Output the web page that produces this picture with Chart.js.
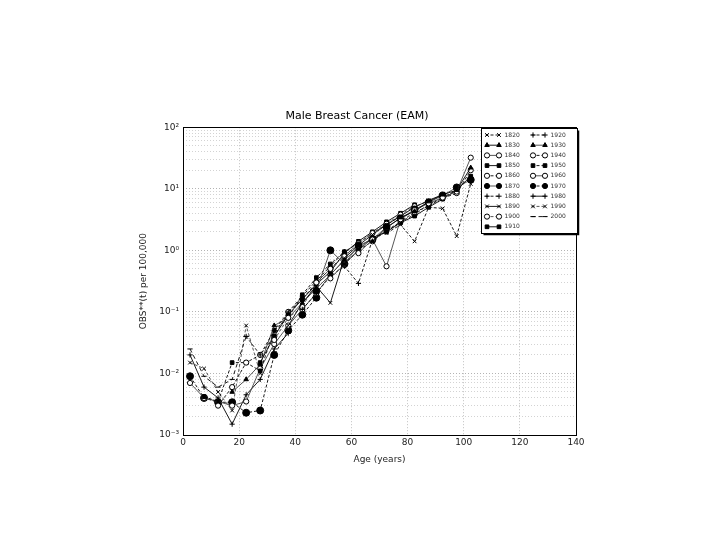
<!DOCTYPE html>
<html>
<head>
<meta charset="utf-8">
<script src="https://cdn.jsdelivr.net/npm/chart.js@4.4.1/dist/chart.umd.min.js"></script>
<style>
    html, body { margin: 0; padding: 0; background: #fff; }
</style>
</head>
<body>
<canvas id="myChart" width="720" height="540"></canvas>
<script>
// age group midpoints (years)
const ages = [2.5, 7.5, 12.5, 17.5, 22.5, 27.5, 32.5, 37.5, 42.5, 47.5, 52.5,
    57.5, 62.5, 67.5, 72.5, 77.5, 82.5, 87.5, 92.5, 97.5, 102.5];

const cohorts = ['1820', '1830', '1840', '1850', '1860', '1870', '1880', '1890', '1900', '1910',
    '1920', '1930', '1940', '1950', '1960', '1970', '1980', '1990', '2000'];

// OBS**(t) per 100,000, one value per age group (null = not observed)
const n = null;
const s1820 = [n, n, n, n, n, n, n, n, n, n, n, n, n, n, 1.9, 2.6, 1.4, 5.0, 4.8, 1.7, 12];
const s1830 = [n, n, n, n, n, n, n, n, n, n, n, n, n, 1.4, 2.3, 3.4, 4.3, 6.2, 8.0, 9.5, 22];
const s1840 = [n, n, n, n, n, n, n, n, n, n, n, n, 0.9, 1.5, 0.55, 3.2, 4.5, 5.8, 7.2, 9.0, 32];
const s1850 = [n, n, n, n, n, n, n, n, n, n, n, 0.6, 1.0, 1.6, 2.0, 2.8, 3.6, 5.0, 6.8, 9.5, 16];
const s1860 = [n, n, n, n, n, n, n, n, n, n, 0.35, 0.6, 1.0, 1.4, 2.1, 2.9, 3.8, 5.6, 7.0, 8.5, 20];
const s1870 = [n, n, n, n, n, n, n, n, n, 0.22, 1.0, 0.6, 1.2, 1.5, 2.4, 3.3, 4.6, 6.0, 7.8, 10.5, 14];
const s1880 = [n, n, n, n, n, n, n, n, 0.11, 0.2, 0.38, 0.55, 0.29, 1.5, 2.0, 2.9, 4.2, 5.2, 7.2, 9.5, n];
const s1890 = [n, n, n, n, n, n, n, 0.06, 0.14, 0.26, 0.14, 0.75, 1.2, 1.8, 2.6, 3.6, 5.0, 6.5, 8.0, n, n];
const s1900 = [n, n, n, n, n, n, 0.035, 0.08, 0.12, 0.3, 0.5, 0.8, 1.3, 1.9, 2.7, 3.8, 5.2, 6.2, n, n, n];
const s1910 = [n, n, n, n, n, 0.015, 0.04, 0.09, 0.16, 0.28, 0.45, 0.9, 1.4, 2.0, 2.9, 4.0, 5.5, n, n, n, n];
const s1920 = [n, n, n, n, 0.04, 0.02, 0.05, 0.1, 0.18, 0.32, 0.55, 0.95, 1.3, 1.9, 2.6, 3.6, n, n, n, n, n];
const s1930 = [n, n, n, 0.005, 0.008, 0.014, 0.06, 0.08, 0.14, 0.24, 0.4, 0.7, 1.1, 1.6, n, n, n, n, n, n, n];
const s1940 = [n, n, 0.003, 0.006, 0.015, 0.02, 0.04, 0.1, 0.16, 0.3, 0.5, 0.85, 1.2, n, n, n, n, n, n, n, n];
const s1950 = [n, 0.0042, 0.0035, 0.015, 0.015, 0.011, 0.05, 0.08, 0.19, 0.36, 0.6, 0.95, n, n, n, n, n, n, n, n, n];
const s1960 = [0.007, 0.004, 0.0035, 0.003, 0.0035, 0.012, 0.03, 0.06, 0.11, 0.2, 0.4, 0.7, n, n, n, n, n, n, n, n, n];
const s1970 = [0.009, 0.004, 0.0034, 0.0034, 0.0023, 0.0025, 0.02, 0.05, 0.09, 0.17, n, n, n, n, n, n, n, n, n, n, n];
const s1980 = [0.02, 0.006, 0.004, 0.0015, 0.0045, 0.008, 0.025, 0.045, n, n, n, n, n, n, n, n, n, n, n, n, n];
const s1990 = [0.015, 0.012, 0.005, 0.0025, 0.06, 0.01, n, n, n, n, n, n, n, n, n, n, n, n, n, n, n];
const s2000 = [0.025, 0.009, 0.006, 0.008, 0.04, n, n, n, n, n, n, n, n, n, n, n, n, n, n, n, n];

const series = [s1820, s1830, s1840, s1850, s1860, s1870, s1880, s1890, s1900, s1910,
    s1920, s1930, s1940, s1950, s1960, s1970, s1980, s1990, s2000];

const xTicks = [0, 20, 40, 60, 80, 100, 120, 140];
const yTickValues = [0.001, 0.01, 0.1, 1, 10, 100];
const yTickLabels = ['10\u207B\u00B3', '10\u207B\u00B2', '10\u207B\u00B9', '10\u2070', '10\u00B9', '10\u00B2'];

// marker / line style per cohort
const styles = [
    {pt: 'crossRot', fill: false, dash: [3, 2]},
    {pt: 'triangle', fill: true, dash: []},
    {pt: 'circle', fill: false, dash: []},
    {pt: 'rect', fill: true, dash: []},
    {pt: 'circle', fill: false, dash: [3, 2]},
    {pt: 'circle', fill: true, dash: [], r: 3.5},
    {pt: 'cross', fill: false, dash: [3, 2]},
    {pt: 'crossRot', fill: false, dash: []},
    {pt: 'circle', fill: false, dash: [3, 2]},
    {pt: 'rect', fill: true, dash: []},
    {pt: 'cross', fill: false, dash: [3, 2]},
    {pt: 'triangle', fill: true, dash: []},
    {pt: 'circle', fill: false, dash: [3, 2]},
    {pt: 'rect', fill: true, dash: [3, 2]},
    {pt: 'circle', fill: false, dash: []},
    {pt: 'circle', fill: true, dash: [3, 2], r: 3.5},
    {pt: 'cross', fill: false, dash: []},
    {pt: 'crossRot', fill: false, dash: [3, 2]},
    {pt: 'line', fill: false, dash: [4, 3]},
];

const datasets = cohorts.map((label, i) => {
    const st = styles[i];
    return {
        label: label,
        data: ages.map((a, j) => ({x: a, y: series[i][j]})).filter(p => p.y !== null),
        borderColor: i % 3 === 2 ? '#444' : '#000',
        borderWidth: 0.9,
        borderDash: st.dash,
        pointStyle: st.pt,
        pointRadius: st.r || 2.6,
        pointBorderWidth: 1,
        pointBorderColor: '#000',
        pointBackgroundColor: st.fill ? '#000' : '#fff',
        fill: false,
        tension: 0,
    };
});

const frame = {
    id: 'frame',
    afterDatasetsDraw(chart) {
        const {ctx, chartArea: a} = chart;
        ctx.save();
        ctx.strokeStyle = '#000';
        ctx.lineWidth = 1;
        ctx.strokeRect(Math.round(a.left) + 0.5, Math.round(a.top) + 0.5,
            Math.round(a.right - a.left), Math.round(a.bottom - a.top));
        ctx.restore();
    }
};

const cornerLegend = {
    id: 'cornerLegend',
    afterDraw(chart) {
        const {ctx, chartArea} = chart;
        const sets = chart.data.datasets;
        const rows = Math.ceil(sets.length / 2);
        const rowH = 10.2, colW = 46;
        const left = Math.round(chartArea.right) - 94.5;
        const top = Math.round(chartArea.top) + 1.5;
        const boxW = 96, boxH = rows * rowH + 3;
        ctx.save();
        ctx.fillStyle = '#fff';
        ctx.fillRect(left, top, boxW, boxH);
        ctx.strokeStyle = '#000';
        ctx.lineWidth = 1;
        ctx.strokeRect(left, top, boxW, boxH);
        ctx.lineWidth = 1.5;
        ctx.beginPath();
        ctx.moveTo(left + boxW + 1, top + 2);
        ctx.lineTo(left + boxW + 1, top + boxH + 1);
        ctx.lineTo(left + 2, top + boxH + 1);
        ctx.stroke();
        ctx.font = '6px "DejaVu Sans"';
        ctx.textBaseline = 'middle';
        sets.forEach((ds, i) => {
            const col = Math.floor(i / rows), row = i % rows;
            const x = left + 4 + col * colW;
            const y = top + 6.5 + row * rowH;
            ctx.strokeStyle = ds.borderColor;
            ctx.lineWidth = 0.9;
            ctx.setLineDash(ds.borderDash);
            ctx.beginPath();
            ctx.moveTo(x, y);
            ctx.lineTo(x + 15, y);
            ctx.stroke();
            ctx.setLineDash([]);
            ctx.strokeStyle = '#000';
            ctx.fillStyle = ds.pointBackgroundColor;
            ctx.lineWidth = 1;
            [x + 1.5, x + 13.5].forEach(px => {
                Chart.helpers.drawPoint(ctx, {
                    pointStyle: ds.pointStyle, radius: Math.min(ds.pointRadius, 2.6),
                    rotation: 0, borderWidth: 1
                }, px, y);
            });
            ctx.fillStyle = '#333';
            ctx.fillText(ds.label, x + 19, y);
        });
        ctx.restore();
    }
};

new Chart(document.getElementById('myChart'), {
    type: 'line',
    data: {datasets: datasets},
    options: {
        responsive: false,
        animation: false,
        layout: {padding: {left: 138, right: 144, top: 110, bottom: 75}},
        plugins: {
            legend: {display: false},
            tooltip: {enabled: false},
            title: {
                display: true,
                text: 'Male Breast Cancer (EAM)',
                color: '#000',
                font: {family: 'DejaVu Sans', size: 11, weight: 'normal'},
                padding: {top: 0, bottom: 4}
            }
        },
        scales: {
            x: {
                type: 'linear',
                min: 0,
                max: 140,
                afterFit: scale => { scale.height = 30; },
                afterBuildTicks: scale => { scale.ticks = xTicks.map(v => ({value: v})); },
                ticks: {color: '#222', padding: 2, font: {family: 'DejaVu Sans', size: 9}},
                grid: {color: '#b0b0b0', drawTicks: false, lineWidth: 0.8},
                border: {display: false, dash: [1, 2]},
                title: {
                    display: true, text: 'Age (years)', color: '#222', padding: {top: 0, bottom: 0},
                    font: {family: 'DejaVu Sans', size: 9}
                }
            },
            y: {
                type: 'logarithmic',
                min: 0.001,
                max: 100,
                afterFit: scale => { scale.width = 45; },
                afterBuildTicks: scale => {
                    const t = [];
                    yTickValues.forEach((v, k) => {
                        t.push({value: v, major: true});
                        if (k < yTickValues.length - 1) {
                            for (let m = 2; m < 10; m++) t.push({value: v * m, major: false});
                        }
                    });
                    scale.ticks = t;
                },
                ticks: {
                    autoSkip: false,
                    color: '#222',
                    padding: 4,
                    font: {family: 'DejaVu Sans', size: 9},
                    callback: value => {
                        const k = yTickValues.findIndex(v => Math.abs(v - value) < v * 1e-6);
                        return k >= 0 ? yTickLabels[k] : '';
                    }
                },
                grid: {
                    drawTicks: false,
                    color: c => (c.tick && c.tick.major ? '#a0a0a0' : '#c8c8c8'),
                    lineWidth: 0.8
                },
                border: {display: false, dash: [1, 2]},
                title: {
                    display: true, text: 'OBS**(t) per 100,000', color: '#222', padding: {top: 0, bottom: 2},
                    font: {family: 'DejaVu Sans', size: 9}
                }
            }
        }
    },
    plugins: [frame, cornerLegend]
});
</script>
</body>
</html>
